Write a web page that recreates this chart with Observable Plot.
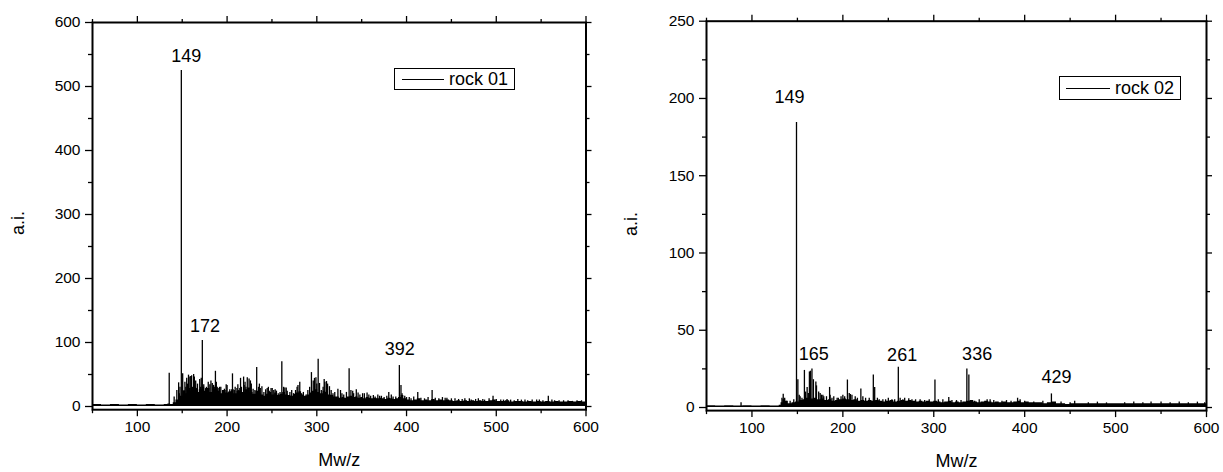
<!DOCTYPE html>
<html><head><meta charset="utf-8">
<script src="https://cdn.jsdelivr.net/npm/d3@7"></script>
<script src="https://cdn.jsdelivr.net/npm/@observablehq/plot@0.6"></script>
<style>
body{margin:0;background:#fff;font-family:"Liberation Sans",Arial,sans-serif;}
#wrap{position:relative;width:1223px;height:472px;overflow:hidden;}
.panel{position:absolute;top:0;}
.legend{position:absolute;border:1px solid #000;box-sizing:border-box;font-size:18px;background:#fff;color:#000;}
.legend .ln{position:absolute;height:1px;background:#000;}
.legend .tx{position:absolute;line-height:1;}
</style></head><body><div id="wrap"></div>
<script>
// ---- shared axis ticks ----
const xMajor = [100, 200, 300, 400, 500, 600];
const xMinor = [50, 150, 250, 350, 450, 550];
const xLabel = "Mw/z";
const yLabel = "a.i.";

// ---- rock 01 ----
const r1Name = "rock 01";
const r1YMajor = [0, 100, 200, 300, 400, 500, 600];
const r1YMinor = [50, 150, 250, 350, 450, 550];
const r1PeakMz = [135.5,141,144,146,147.5,149,150.5,152,153,154,155,156,157,158.5,159.5,160.5,161.5,162.7,163.5,164,165,166,167,169.5,170.5,171.2,172.4,174,176,177,178,179,180.8,182,183.5,185,187,188,189,190,191.6,193,195,197,199,200,202,203,206,208,209,211,212,213,215,216,218.4,219,220,221,222.5,224.5,226,227,229,231,233,235,236,237,238.8,241,243,244.7,246,247,249,250.3,252,253.6,255,257,259,261,263,264.4,265.9,267,270,272,274,276.3,278,279,281,283,285,288,290,292,294,296,297.4,299,300,301.5,303,305,307,308.2,309,310.8,312,314.1,316,318,320,323.5,326.4,328,330,333,336,338,340,341,344,346,348,351,353,356,358,360,363,365,368,370,372,375,378,380.2,383,385,388,392,393.8,395,398,400,403,405,408,412.5,416,420,424,428.5,432,436,440,443,445,450,454,458,462,465,470,472,477,480,485,487,492,496.4,500,505,508,512,516,520,524,528,532,535,540,545,548,552,558,562,565,570,575,580,585,590,595];
const r1PeakInt = [52,15,25,37,30,525,51,25,38,30,44,35,49,46,47,48,30,50,46,30,40,28,35,42,30,44,103,34,28,30,25,38,34,40,36,33,55,38,30,28,30,30,25,27,34,33,22,26,51,25,30,28,34,25,44,30,46,33,38,30,45,43,40,35,27,25,61,30,35,28,31,22,26,28,30,24,28,28,25,26,24,20,22,70,30,29,29,24,22,25,20,25,30,33,38,20,22,18,25,30,53,40,44,45,35,74,36,25,30,42,38,39,35,31,25,20,22,27,25,20,18,22,59,25,24,20,26,21,18,20,20,21,18,16,17,15,18,16,16,14,16,22,18,15,15,64,33,20,16,14,14,12,15,22,13,12,14,25,13,12,14,13,13,12,12,11,11,12,12,10,11,12,11,10,12,16,11,10,10,11,10,9,11,10,10,9,10,10,10,9,16,10,9,9,9,9,8,9,9];
const r1BandMz = [50,60,70,80,90,100,110,120,130,134,137,140,143,146,148,151,154,157,160,163,166,169,172,175,178,181,184,187,190,193,196,199,202,205,208,211,214,217,220,223,226,229,232,235,238,241,244,247,250,253,256,259,262,265,268,271,274,277,280,283,286,289,292,295,298,301,304,307,310,313,316,319,322,325,328,331,334,337,340,343,346,349,352,355,358,361,364,367,370,373,376,379,382,385,388,391,394,397,400,404,408,412,416,420,424,428,432,436,440,444,448,452,456,460,464,468,472,476,480,484,488,492,496,500,505,510,515,520,525,530,535,540,545,550,555,560,565,570,575,580,585,590,595,600];
const r1BandInt = [3,2.5,3,2.5,3,2.5,3,2.5,3,4,3,6,10,20,16,24,20,28,24,30,22,26,30,24,28,22,30,26,24,20,25,21,23,26,20,24,28,22,26,29,22,19,24,21,18,16,19,22,18,21,17,19,22,18,17,16,19,21,23,18,16,18,21,24,26,22,20,24,22,18,17,15,15,13,14,13,15,16,14,15,13,14,12,14,13,12,13,12,13,12,11,13,12,11,12,14,17,12,10,9,10,12,9,10,9,11,9,10,9,10,9,8,9,8,9,8,9,8,9,8,8,9,10,8,8,9,7,8,8,7,8,7,8,7,8,7,8,7,7,8,7,8,7,7];
const r1LabText = ["149", "172", "392"];
const r1LabMz = [154.6, 175.3, 392.4];
const r1LabInt = [548, 125.5, 90];
const r1TitleInt = 268; // vertical position of the a.i. title, in data units

// ---- rock 02 ----
const r2Name = "rock 02";
const r2YMajor = [0, 50, 100, 150, 200, 250];
const r2YMinor = [25, 75, 125, 175, 225];
const r2PeakMz = [88,133,134.4,136,138,142,146,149,150.5,152,153,155,157.7,159,160.7,162,163.2,164.3,166,167.6,170.3,171,173.4,175,176.4,178,179,182,185.4,186,188,190,193.7,195,198,200,202,205,207,208.3,210,213.6,216,219.8,222,225,229,233.5,235,238,240,244,247,250,254,257,261,263,266,268,272.5,276,280,285,290,295,301.3,305,310,316.5,320,325,330,336.4,338.6,345,350,358.7,362,366,375,380,385,392.2,395,400,410,420,429.4,440,450,455,470,480,490,510,520,530,539,550,560,570,580,590,598];
const r2PeakInt = [3,6,8.6,6,4,4,5,184.5,18,8,7,6,24,10,13,9,23,23.5,25,18,16.5,14,10,9,8,8,7,7,13,8,6,7,6,6,7,8,7,17.8,9,8.4,8,7,6,12,7,6,6,21,13,6,5,5,5,6,5,5,26,6,5,6,5.7,5,5,5,4.5,5,17.8,5,5,6.5,4.5,4.5,4.5,25,21,4,5,5,5,4.5,4,4.5,4,6,5,4,3.5,4,8.8,3.5,3,4,3,3.5,3,3,3.5,3,3.5,3.5,3,3.5,3,3.5,3];
const r2BandMz = [50,60,70,80,90,100,110,120,130,132,134,137,140,144,148,152,156,160,164,168,172,176,180,184,188,192,196,200,204,208,212,216,220,224,228,232,236,240,244,248,252,256,260,264,268,272,276,280,284,288,292,296,300,304,308,312,316,320,324,328,332,336,340,344,348,352,356,360,364,368,372,376,380,384,388,392,396,400,405,410,415,420,425,430,435,440,445,450,460,470,480,490,500,510,520,530,540,550,560,570,580,590,600];
const r2BandInt = [1.2,1,1.2,1,1.2,1,1.2,1,1.5,3,5,4,2.5,3,3.5,4.5,5,6,5.5,6,5,5.5,4.5,5,4,4.5,5,5.5,5,4.5,5,4,4.5,4,4.5,4,4.5,4,3.5,4,4.5,3.5,4,4.5,4,4.5,4,3.5,4,3.5,4,3.5,4,3.5,3,3.5,4,3,3.5,3,3.5,4,4.5,3.5,3,3.5,4,3.5,3,3.5,3,3.5,3,3,3.5,4,3,3.5,3,3,3,2.5,3,3.5,2.5,2.5,2,2.5,2.5,2.5,2.5,2.5,2.5,2.5,2.5,2.5,2.5,2.5,2.5,2.5,2.5,2.5,2.5];
const r2LabText = ["149", "165", "261", "336", "429"];
const r2LabMz = [141.3, 168, 265.2, 347.7, 434.9];
const r2LabInt = [200.7, 34.3, 33.6, 34.3, 19.6];
const r2TitleInt = 111;

const FONT = "Liberation Sans, Arial, sans-serif";

function panel(o) {
  const peaks = o.peakMz.map((m, i) => ({m, v: o.peakInt[i]}));
  const band = o.bandMz.map((m, i) => ({m, v: o.bandInt[i]}));
  const labs = o.labText.map((t, i) => ({t, m: o.labMz[i], v: o.labInt[i]}));
  const blank = () => "";
  return Plot.plot({
    width: o.width, height: 472,
    marginLeft: o.ml, marginRight: o.mr, marginTop: o.mt, marginBottom: o.mb,
    style: {fontFamily: FONT, fontSize: "15px", color: "#000", background: "transparent", overflow: "visible"},
    x: {domain: [50, 600]},
    y: {domain: o.yDomain},
    marks: [
      Plot.areaY(band, {x: "m", y1: 0, y2: "v", curve: "step-after", fill: "#000"}),
      Plot.ruleX(peaks, {x: "m", y1: 0, y2: "v", stroke: "#000", strokeWidth: 1.3}),
      Plot.text(labs, {x: "m", y: "v", text: "t", fontSize: 18, fill: "#000", lineAnchor: "middle"}),
      Plot.frame({stroke: "#000", strokeWidth: 2}),
      Plot.axisX({ticks: xMajor, tickSize: 7, tickPadding: 4, fontSize: 15.5, label: null, strokeWidth: 1.3}),
      Plot.axisX({ticks: xMinor, tickSize: 4, tickFormat: blank, label: null, strokeWidth: 1.3}),
      Plot.axisX({anchor: "top", ticks: xMajor, tickSize: 7, tickFormat: blank, label: null, strokeWidth: 1.3}),
      Plot.axisX({anchor: "top", ticks: xMinor, tickSize: 4, tickFormat: blank, label: null, strokeWidth: 1.3}),
      Plot.axisY({ticks: o.yMajor, tickSize: 7, tickPadding: 5, fontSize: 15.5, label: null, strokeWidth: 1.3}),
      Plot.axisY({ticks: o.yMinor, tickSize: 4, tickFormat: blank, label: null, strokeWidth: 1.3}),
      Plot.axisY({anchor: "right", ticks: o.yMajor, tickSize: 5, tickFormat: blank, label: null, strokeWidth: 1.3}),
      Plot.axisY({anchor: "right", ticks: o.yMinor, tickSize: 3, tickFormat: blank, label: null, strokeWidth: 1.3}),
      Plot.text([yLabel], {y: () => o.titleInt, frameAnchor: "left", dx: o.yTitleDx, rotate: -90, fontSize: 18, fill: "#000"}),
      Plot.text([xLabel], {frameAnchor: "bottom", dy: 56, fontSize: 18, fill: "#000"})
    ]
  });
}

const wrap = document.getElementById("wrap");

const p1 = panel({
  width: 600, ml: 92, mr: 14.5, mt: 22, mb: 62.8, yDomain: [-5, 600],
  yMajor: r1YMajor, yMinor: r1YMinor, yTitleDx: -74, titleInt: r1TitleInt,
  peakMz: r1PeakMz, peakInt: r1PeakInt, bandMz: r1BandMz, bandInt: r1BandInt,
  labText: r1LabText, labMz: r1LabMz, labInt: r1LabInt
});
const d1 = document.createElement("div"); d1.className = "panel"; d1.style.left = "0px"; d1.appendChild(p1); wrap.appendChild(d1);

const p2 = panel({
  width: 612, ml: 95, mr: 17, mt: 20.7, mb: 61.9, yDomain: [-2, 250],
  yMajor: r2YMajor, yMinor: r2YMinor, yTitleDx: -75, titleInt: r2TitleInt,
  peakMz: r2PeakMz, peakInt: r2PeakInt, bandMz: r2BandMz, bandInt: r2BandInt,
  labText: r2LabText, labMz: r2LabMz, labInt: r2LabInt
});
const d2 = document.createElement("div"); d2.className = "panel"; d2.style.left = "611px"; d2.appendChild(p2); wrap.appendChild(d2);

function legend(name, left, top, w, h, lnL, lnW, txL) {
  const el = document.createElement("div");
  el.className = "legend";
  Object.assign(el.style, {left: left + "px", top: top + "px", width: w + "px", height: h + "px"});
  const ln = document.createElement("div"); ln.className = "ln";
  Object.assign(ln.style, {left: lnL + "px", width: lnW + "px", top: (h / 2 - 1) + "px"});
  const tx = document.createElement("div"); tx.className = "tx"; tx.textContent = name;
  Object.assign(tx.style, {left: txL + "px", top: (h / 2 - 10) + "px"});
  el.appendChild(ln); el.appendChild(tx);
  wrap.appendChild(el);
}
legend(r1Name, 394, 68, 121, 22, 7, 42, 54);
legend(r2Name, 1059, 76, 122, 24, 6, 44, 55);
</script>
</body></html>
